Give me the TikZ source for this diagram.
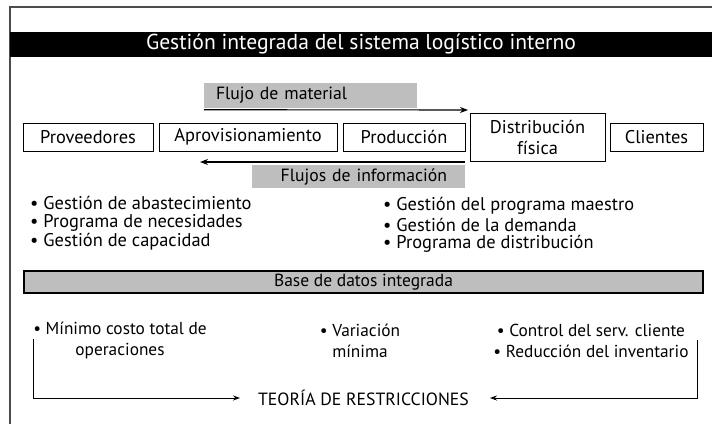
\documentclass[tikz,border=0pt]{standalone}
\usepackage{fontspec}
\setmainfont{PT Sans}
\usetikzlibrary{arrows.meta}
\definecolor{boxgray}{HTML}{BEBEBE}
\begin{document}
\begin{tikzpicture}[x=1pt,y=-1pt,
  every node/.style={font=\fontsize{16}{19.5}\selectfont, inner sep=0pt},
  rowbox/.style={draw=black, line width=1pt, fill=white, minimum height=28pt, align=center, font=\fontsize{18.4}{21}\selectfont},
  graybox/.style={fill=boxgray, minimum height=25pt, font=\fontsize{17.7}{20}\selectfont},
  arr/.style={line width=1.1pt, -{Stealth[length=8pt,width=6pt]}},
  conn/.style={line width=1pt, -{Stealth[length=7pt,width=5pt]}},
  txt/.style={align=left, anchor=west, font=\fontsize{18.4}{20}\selectfont},
  ctxt/.style={align=center, font=\fontsize{17.3}{21}\selectfont}]
\useasboundingbox (0,0) rectangle (712,424);
\fill[white] (0,0) rectangle (712,424);
% frame
\draw[line width=1.2pt, black!70] (712,7) -- (10,7) -- (10,424);
% title bar
\node[fill=black, text=white, minimum width=702pt, minimum height=25pt,
      font=\fontsize{21.6}{24}\selectfont] (title) at (361,44.5)
      {Gestión integrada del sistema logístico interno};
% material flow
\node[graybox, minimum width=213pt, text width=189pt, align=left] (fm) at (310.5,95.5) {Flujo de material};
% row boxes
\node[rowbox, minimum width=130pt] (prov) at (88,137) {Proveedores};
\node[rowbox, minimum width=178pt] (aprov) at (248,137) {Aprovisionamiento};
\node[rowbox, minimum width=122pt] (prod) at (404,137) {Producción};
\node[rowbox, minimum width=135pt, minimum height=48pt] (dist) at (537.5,137) {Distribución\\física};
\node[rowbox, minimum width=93pt] (cli) at (656.5,137) {Clientes};
\coordinate (mend) at (468,110);
\draw[arr] (fm.south west) ++(0,1.5) -- (mend);
% information flow
\node[graybox, minimum width=213pt, minimum height=23pt, text width=177pt, align=right] (fi) at (358.5,176.5) {Flujos de información};
\coordinate (istart) at (465,162);
\coordinate (iend) at (200,162);
\draw[arr] (istart) -- (iend);
% bullet lists
\node[txt] (l1) at (30,203) {• Gestión de abastecimiento};
\node[txt] (l2) at (30,223) {• Programa de necesidades};
\node[txt] (l3) at (30,242) {• Gestión de capacidad};
\node[txt] (r1) at (383,206) {• Gestión del programa maestro};
\node[txt] (r2) at (383,225) {• Gestión de la demanda};
\node[txt] (r3) at (383,244) {• Programa de distribución};
% database
\node[draw=black, line width=1.2pt, fill=boxgray, minimum width=679pt, minimum height=22pt,
      font=\fontsize{17.5}{20}\selectfont] (db) at (363.5,282) {Base de datos integrada};
% bottom
\node[ctxt] (b1) at (120,340.5) {• Mínimo costo total de\\operaciones};
\node[ctxt] (b2) at (360,340.5) {• Variación\\mínima};
\node[ctxt] (b3) at (591,340.5) {• Control del serv. cliente\\• Reducción del inventario};
\node[font=\fontsize{17.7}{20}\selectfont] (teo) at (363.5,398) {TEORÍA DE RESTRICCIONES};
\coordinate (lc) at (33,339);
\coordinate (lt) at (240,398);
\coordinate (rc) at (697,340);
\coordinate (rt) at (490,398);
\draw[conn] (lc) |- (lt);
\draw[conn] (rc) |- (rt);
\end{tikzpicture}
\end{document}
